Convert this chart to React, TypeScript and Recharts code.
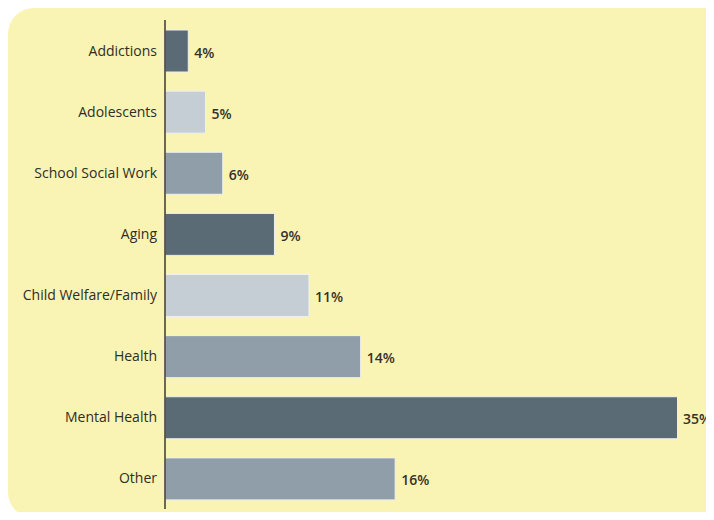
import React from 'react';
import { BarChart, Bar, XAxis, YAxis, Cell, LabelList } from 'recharts';

const categories = [
  'Addictions',
  'Adolescents',
  'School Social Work',
  'Aging',
  'Child Welfare/Family',
  'Health',
  'Mental Health',
  'Other',
];
const shares = [4, 5, 6, 9, 11, 14, 35, 16];
const shades = ['dark', 'light', 'mid', 'dark', 'light', 'mid', 'dark', 'mid'];

const SHADE_COLORS: Record<string, string> = {
  dark: '#5b6b76',
  light: '#c6ced5',
  mid: '#8f9ea8',
};

const W = 714;
const H = 520;
const PLOT_LEFT = 165;
const PLOT_RIGHT = 677;
const FONT = "'Open Sans', sans-serif";

const data = categories.map((name, i) => ({ name, value: shares[i], shade: shades[i] }));

// the original chart does not start at zero and cuts off the long Mental Health bar
const renderValue = (props: any) => {
  const { x, y, width, height, value } = props;
  const end = Math.min(Number(x) + Number(width), PLOT_RIGHT);
  return (
    <text
      x={end + 6}
      y={Number(y) + Number(height) / 2 + 1}
      dominantBaseline="central"
      fontSize={14}
      fontWeight={600}
      fill="#33322a"
      fontFamily={FONT}
    >
      {value}%
    </text>
  );
};

const App: React.FC = () => {
  return (
    <div style={{ position: 'relative', margin: -8, width: W, height: H, background: '#fff', overflow: 'hidden' }}>
      <svg width={W} height={12} style={{ position: 'absolute', left: 0, top: 0 }}>
        <text
          x={85}
          y={5}
          fontFamily="'Liberation Serif', serif"
          fontWeight="bold"
          fontSize={27}
          fill="#111"
        >
          Social Work in U.S.
        </text>
      </svg>
      <div
        style={{
          position: 'absolute',
          left: 8,
          top: 8,
          width: 704,
          height: 510,
          borderRadius: '26px 4px 4px 26px',
          background: '#f9f3b4',
        }}
      />
      <div style={{ position: 'absolute', left: 0, top: 0 }}>
        <BarChart
          width={W}
          height={H}
          data={data}
          layout="vertical"
          margin={{ top: 20, right: W - PLOT_RIGHT, bottom: 11, left: 0 }}
          barSize={42}
        >
          <XAxis type="number" hide domain={[2.65, 32.35]} allowDataOverflow />
          <YAxis
            type="category"
            dataKey="name"
            width={PLOT_LEFT}
            tickLine={false}
            axisLine={{ stroke: '#3a3a34', strokeWidth: 1.5 }}
            tick={{ fill: '#2f2e24', fontSize: 14, fontWeight: 500, fontFamily: FONT }}
            interval={0}
          />
          <Bar dataKey="value" isAnimationActive={false} stroke="#eef1f2" strokeWidth={1}>
            {data.map((d) => (
              <Cell key={d.name} fill={SHADE_COLORS[d.shade]} />
            ))}
            <LabelList dataKey="value" content={renderValue} />
          </Bar>
        </BarChart>
      </div>
    </div>
  );
};

export default App;
